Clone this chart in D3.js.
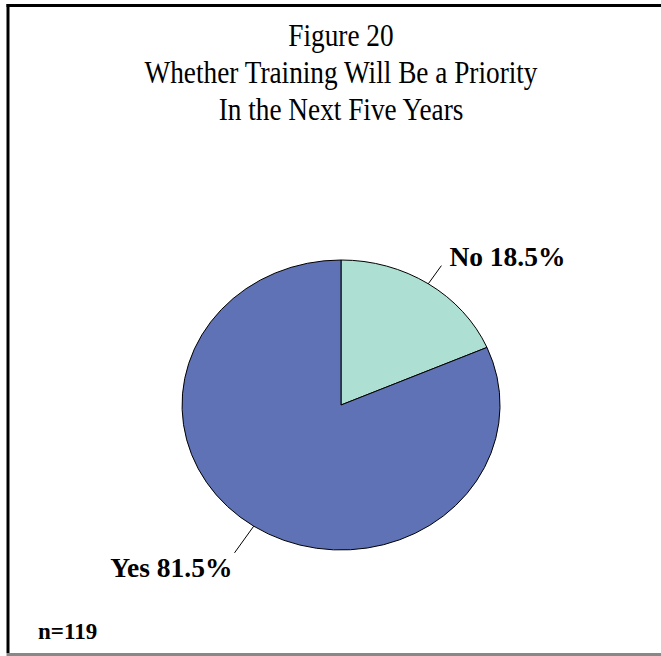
<!DOCTYPE html>
<html>
<head>
<meta charset="utf-8">
<script src="https://cdn.jsdelivr.net/npm/d3@7/dist/d3.min.js"></script>
<style>
  html, body { margin: 0; padding: 0; background: #ffffff; }
  svg { display: block; }
</style>
</head>
<body>
<svg id="chart" width="661" height="656"></svg>
<script>
// Survey answers and their shares (percent)
const categories = ["No", "Yes"];
const shares = [18.5, 81.5];
const sampleSize = 119;
const titleLines = ["Figure 20", "Whether Training Will Be a Priority", "In the Next Five Years"];

const colors = d3.scaleOrdinal().domain(categories).range(["#ade0d3", "#5e72b5"]);

const svg = d3.select("#chart");
const W = 661, H = 656;

// Frame: black left and top rules, grey bottom rule
svg.append("rect").attr("x", 0).attr("y", 0).attr("width", W).attr("height", H).attr("fill", "#fff");
svg.append("line").attr("x1", 8).attr("x2", 8).attr("y1", 4).attr("y2", 653)
  .attr("stroke", "#000").attr("stroke-width", 3);
svg.append("line").attr("x1", 6.5).attr("x2", W).attr("y1", 5.5).attr("y2", 5.5)
  .attr("stroke", "#000").attr("stroke-width", 3);
svg.append("line").attr("x1", 6.5).attr("x2", W).attr("y1", 654.5).attr("y2", 654.5)
  .attr("stroke", "#888").attr("stroke-width", 3);

// Title: tall, slightly condensed serif lines
const serif = "'Liberation Serif', 'Times New Roman', Times, serif";
svg.append("g").selectAll("text").data(titleLines).join("text")
  .attr("transform", (d, i) => `translate(341,${46 + i * 37}) scale(0.88,1)`)
  .attr("text-anchor", "middle")
  .attr("font-family", serif)
  .attr("font-size", 31)
  .attr("fill", "#000")
  .text(d => d);

// Pie, drawn on a unit circle and stretched into an ellipse
const cx = 341, cy = 405, rx = 159, ry = 145;
const data = categories.map((c, i) => ({ cat: c, value: shares[i] }));
const pie = d3.pie().value(d => d.value).sort(null);
const arcs = pie(data);
const arc = d3.arc().innerRadius(0).outerRadius(1);

const pieG = svg.append("g").attr("transform", `translate(${cx},${cy}) scale(${rx},${ry})`);
pieG.selectAll("path").data(arcs).join("path")
  .attr("d", arc)
  .attr("fill", d => colors(d.data.cat))
  .attr("stroke", "#000")
  .attr("stroke-width", 1)
  .attr("vector-effect", "non-scaling-stroke");

// Leader lines and value labels
const edge = (a, k) => [cx + rx * k * Math.sin(a), cy - ry * k * Math.cos(a)];
const labelCfg = {
  No:  { k2: 1.15, anchor: "start", dx: 8, dy: 0 },
  Yes: { k2: 1.22, anchor: "end",   dx: -2, dy: 24 }
};
arcs.forEach(d => {
  const mid = (d.startAngle + d.endAngle) / 2;
  const cfg = labelCfg[d.data.cat];
  const p1 = edge(mid, 1.0);
  const p2 = edge(mid, cfg.k2);
  svg.append("line")
    .attr("x1", p1[0]).attr("y1", p1[1]).attr("x2", p2[0]).attr("y2", p2[1])
    .attr("stroke", "#000").attr("stroke-width", 1);
  svg.append("text")
    .attr("x", p2[0] + cfg.dx)
    .attr("y", p2[1] + cfg.dy)
    .attr("text-anchor", cfg.anchor)
    .attr("font-family", serif)
    .attr("font-weight", "bold")
    .attr("font-size", 27.5)
    .attr("fill", "#000")
    .text(`${d.data.cat} ${d3.format(".1f")(d.data.value)}%`);
});

// Sample size note
svg.append("text")
  .attr("x", 38).attr("y", 639)
  .attr("font-family", serif)
  .attr("font-weight", "bold")
  .attr("font-size", 23)
  .attr("fill", "#000")
  .text(`n=${sampleSize}`);
</script>
</body>
</html>
